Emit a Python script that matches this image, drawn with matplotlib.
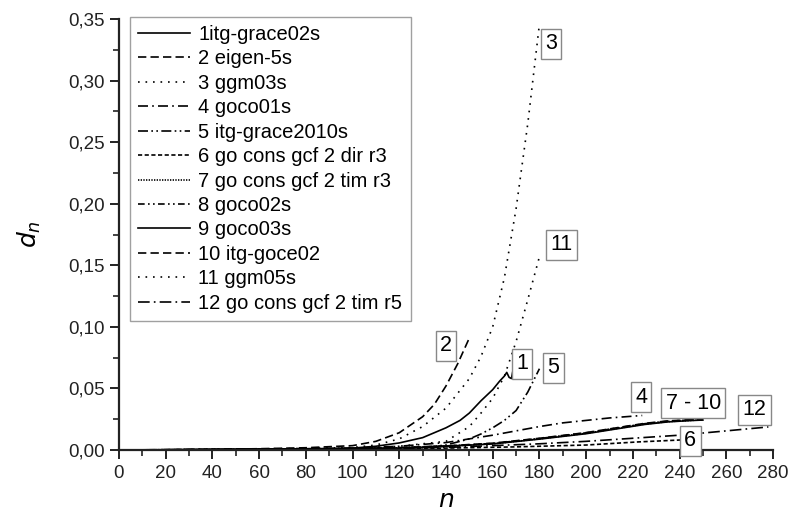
import matplotlib.pyplot as plt
from matplotlib.ticker import FuncFormatter, MultipleLocator

plt.rcParams['font.family'] = ['Liberation Sans', 'DejaVu Sans']

# degree n and d_n for each gravity field model
names = ["1itg-grace02s", "2 eigen-5s", "3 ggm03s", "4 goco01s",
         "5 itg-grace2010s", "6 go cons gcf 2 dir r3", "7 go cons gcf 2 tim r3",
         "8 goco02s", "9 goco03s", "10 itg-goce02", "11 ggm05s",
         "12 go cons gcf 2 tim r5"]

n1 = [2, 20, 40, 60, 80, 100, 110, 120, 130, 140, 146, 150, 155, 160, 163, 165, 166, 167, 168, 168.5]
d1 = [0.0, 0.0002, 0.0004, 0.0006, 0.0009, 0.0015, 0.003, 0.0057, 0.010, 0.018, 0.024,
      0.030, 0.040, 0.049, 0.056, 0.060, 0.063, 0.059, 0.058, 0.063]

n2 = [2, 20, 40, 60, 80, 100, 110, 120, 130, 135, 140, 145, 150]
d2 = [0.0, 0.0002, 0.0005, 0.001, 0.0018, 0.0035, 0.007, 0.014, 0.027, 0.037, 0.052, 0.070, 0.091]

n3 = [2, 20, 40, 60, 80, 100, 110, 120, 130, 140, 150, 155, 160, 165, 170, 175, 180]
d3 = [0.0, 0.0002, 0.0004, 0.0008, 0.0013, 0.002, 0.004, 0.009, 0.019, 0.034, 0.058,
      0.076, 0.100, 0.140, 0.196, 0.265, 0.346]

n4 = [2, 20, 40, 60, 80, 100, 120, 140, 150, 160, 170, 180, 190, 200, 210, 224]
d4 = [0.0, 0.0002, 0.0004, 0.0007, 0.001, 0.0015, 0.003, 0.006, 0.009, 0.012, 0.0155,
      0.019, 0.022, 0.024, 0.026, 0.028]

n5 = [2, 20, 40, 60, 80, 100, 120, 130, 140, 150, 155, 160, 165, 170, 175, 180]
d5 = [0.0, 0.0001, 0.0003, 0.0005, 0.0007, 0.0009, 0.0012, 0.002, 0.004, 0.009, 0.013,
      0.018, 0.024, 0.032, 0.047, 0.066]

n6 = [2, 20, 40, 60, 80, 100, 120, 140, 170, 200, 222, 245]
d6 = [0.0, 0.0001, 0.0002, 0.0004, 0.0006, 0.0008, 0.001, 0.0015, 0.0025, 0.004, 0.0065, 0.0085]

n7 = [2, 20, 40, 60, 80, 100, 120, 140, 160, 180, 200, 215, 225, 235, 245, 250]
d7 = [0.0, 0.0001, 0.0003, 0.0005, 0.0007, 0.001, 0.0017, 0.003, 0.005, 0.009, 0.0135,
      0.018, 0.021, 0.023, 0.024, 0.0245]

n8 = [2, 20, 40, 60, 80, 100, 120, 140, 160, 180, 200, 215, 225, 235, 245, 250]
d8 = [0.0, 0.0001, 0.0003, 0.0005, 0.0008, 0.0011, 0.0018, 0.0032, 0.0053, 0.0093, 0.0139,
      0.0184, 0.0213, 0.0234, 0.0244, 0.0247]

n9 = [2, 20, 40, 60, 80, 100, 120, 140, 160, 180, 200, 215, 225, 235, 245, 250]
d9 = [0.0, 0.0001, 0.0003, 0.0005, 0.0007, 0.001, 0.0016, 0.0029, 0.0049, 0.0088, 0.0132,
      0.0177, 0.0207, 0.0228, 0.0239, 0.0243]

n10 = [2, 20, 40, 60, 80, 100, 120, 140, 160, 180, 200, 215, 225, 235, 245, 250]
d10 = [0.0, 0.0001, 0.0003, 0.0006, 0.0008, 0.0012, 0.0019, 0.0033, 0.0055, 0.0095, 0.0141,
       0.0186, 0.0216, 0.0236, 0.0246, 0.0249]

n11 = [2, 20, 40, 60, 80, 100, 120, 140, 150, 155, 160, 165, 170, 175, 180]
d11 = [0.0, 0.0001, 0.0002, 0.0004, 0.0006, 0.001, 0.003, 0.007, 0.019, 0.030, 0.042,
       0.060, 0.088, 0.122, 0.157]

n12 = [2, 20, 40, 60, 80, 100, 140, 180, 200, 220, 240, 260, 278]
d12 = [0.0, 0.0001, 0.0002, 0.0003, 0.0005, 0.0008, 0.002, 0.005, 0.007, 0.0095, 0.012,
       0.0155, 0.0187]

series = [(n1, d1), (n2, d2), (n3, d3), (n4, d4), (n5, d5), (n6, d6),
          (n7, d7), (n8, d8), (n9, d9), (n10, d10), (n11, d11), (n12, d12)]

styles = ['-', (0, (5, 2.5)), (0, (1, 3.5)), (0, (6, 2.5, 1, 2.5)),
          (0, (6, 2, 1, 2, 1, 2)), (0, (2.5, 1.5)), (0, (0.8, 0.8)),
          (0, (4, 2, 1, 2, 1, 2)), '-', (0, (5, 2.5)), (0, (1, 3.5)),
          (0, (7, 2.5, 1, 2.5))]

fig = plt.figure(figsize=(7.88, 5.16), dpi=100)
ax = fig.add_axes([0.151, 0.128, 0.830, 0.835])

for (x, y), name, ls in zip(series, names, styles):
    ax.plot(x, y, color='black', linestyle=ls, linewidth=1.2, label=name)

# curve tags
tags = [("3", 185, 0.330), ("11", 189.3, 0.1665), ("2", 140, 0.0845),
        ("1", 172.6, 0.070), ("5", 186, 0.0666), ("4", 223.5, 0.043),
        ("7 - 10", 245.8, 0.038), ("12", 272, 0.0325), ("6", 244.6, 0.0073)]
for txt, tx, ty in tags:
    ax.text(tx, ty, txt, fontsize=15.5, ha='center', va='center',
            bbox=dict(boxstyle='square,pad=0.2', facecolor='white',
                      edgecolor='#888888', linewidth=1.0))

ax.set_xlim(0, 280)
ax.set_ylim(0, 0.35)
ax.xaxis.set_major_locator(MultipleLocator(20))
ax.xaxis.set_minor_locator(MultipleLocator(10))
ax.yaxis.set_major_locator(MultipleLocator(0.05))
ax.yaxis.set_minor_locator(MultipleLocator(0.025))
ax.yaxis.set_major_formatter(FuncFormatter(lambda v, p: f"{v:.2f}".replace('.', ',')))

for s in ['top', 'right']:
    ax.spines[s].set_visible(False)
for s in ['left', 'bottom']:
    ax.spines[s].set_linewidth(1.6)
    ax.spines[s].set_color('#222222')
ax.tick_params(which='major', direction='out', length=6.5, width=1.4,
               labelsize=13.5, pad=4, color='#222222', labelcolor='#222222')
ax.tick_params(which='minor', direction='out', length=4, width=1.2, color='#222222')

ax.set_xlabel(r'$n$', fontsize=18, labelpad=5)
ax.set_ylabel(r'$d_n$', fontsize=18, labelpad=18)

leg = ax.legend(loc='upper left', bbox_to_anchor=(0.0168, 1.005), borderaxespad=0,
                fontsize=14.5, frameon=True, fancybox=False, edgecolor='#888888',
                handlelength=2.6, handletextpad=0.4, labelspacing=0.27,
                borderpad=0.4)
leg.get_frame().set_linewidth(1.0)

fig.savefig('out.png', dpi=100)
